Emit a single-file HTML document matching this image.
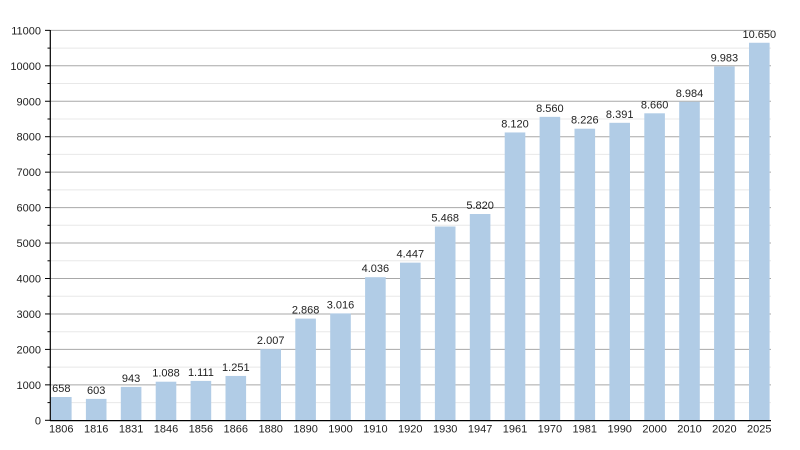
<!DOCTYPE html>
<html><head><meta charset="utf-8"><style>
html,body{margin:0;padding:0;background:#fff;}
svg{display:block;font-family:"Liberation Sans",Arial,sans-serif;}
</style></head><body>
<svg width="800" height="450" viewBox="0 0 800 450" xmlns="http://www.w3.org/2000/svg">
<rect width="800" height="450" fill="#fff"/>
<g stroke="#e8e8e8" stroke-width="1">
<line x1="50" x2="771" y1="402.6" y2="402.6"/>
<line x1="50" x2="771" y1="367.1" y2="367.1"/>
<line x1="50" x2="771" y1="331.7" y2="331.7"/>
<line x1="50" x2="771" y1="296.2" y2="296.2"/>
<line x1="50" x2="771" y1="260.8" y2="260.8"/>
<line x1="50" x2="771" y1="225.3" y2="225.3"/>
<line x1="50" x2="771" y1="189.9" y2="189.9"/>
<line x1="50" x2="771" y1="154.4" y2="154.4"/>
<line x1="50" x2="771" y1="119.0" y2="119.0"/>
<line x1="50" x2="771" y1="83.5" y2="83.5"/>
<line x1="50" x2="771" y1="48.1" y2="48.1"/>
</g>
<g stroke="#a8a8a8" stroke-width="1">
<line x1="50" x2="771" y1="384.85" y2="384.85"/>
<line x1="50" x2="771" y1="349.4" y2="349.4"/>
<line x1="50" x2="771" y1="313.95" y2="313.95"/>
<line x1="50" x2="771" y1="278.5" y2="278.5"/>
<line x1="50" x2="771" y1="243.05" y2="243.05"/>
<line x1="50" x2="771" y1="207.6" y2="207.6"/>
<line x1="50" x2="771" y1="172.15" y2="172.15"/>
<line x1="50" x2="771" y1="136.7" y2="136.7"/>
<line x1="50" x2="771" y1="101.25" y2="101.25"/>
<line x1="50" x2="771" y1="65.8" y2="65.8"/>
<line x1="50" x2="771" y1="30.35" y2="30.35"/>
</g>
<g fill="#b1cce6">
<rect x="51" y="397.0" width="20.6" height="23.3"/>
<rect x="85.9" y="398.9" width="20.6" height="21.4"/>
<rect x="120.8" y="386.9" width="20.6" height="33.4"/>
<rect x="155.7" y="381.7" width="20.6" height="38.6"/>
<rect x="190.6" y="380.9" width="20.6" height="39.4"/>
<rect x="225.5" y="375.95" width="20.6" height="44.35"/>
<rect x="260.4" y="349.15" width="20.6" height="71.15"/>
<rect x="295.3" y="318.6" width="20.6" height="101.7"/>
<rect x="330.2" y="313.4" width="20.6" height="106.9"/>
<rect x="365.1" y="277.2" width="20.6" height="143.1"/>
<rect x="400" y="262.65" width="20.6" height="157.65"/>
<rect x="434.9" y="226.5" width="20.6" height="193.8"/>
<rect x="469.8" y="214.0" width="20.6" height="206.3"/>
<rect x="504.7" y="132.45" width="20.6" height="287.85"/>
<rect x="539.6" y="116.85" width="20.6" height="303.45"/>
<rect x="574.5" y="128.7" width="20.6" height="291.6"/>
<rect x="609.4" y="122.8" width="20.6" height="297.5"/>
<rect x="644.3" y="113.3" width="20.6" height="307.0"/>
<rect x="679.2" y="101.8" width="20.6" height="318.5"/>
<rect x="714.1" y="66.4" width="20.6" height="353.9"/>
<rect x="749" y="42.76" width="20.6" height="377.54"/>
</g>
<g stroke="#000" stroke-width="1.2">
<line x1="50.3" x2="50.3" y1="30" y2="421"/>
<line x1="50" x2="771" y1="420.6" y2="420.6"/>
</g>
<g stroke="#000" stroke-width="1">
<line x1="45" x2="50" y1="420.3" y2="420.3"/>
<line x1="45" x2="50" y1="384.85" y2="384.85"/>
<line x1="45" x2="50" y1="349.4" y2="349.4"/>
<line x1="45" x2="50" y1="313.95" y2="313.95"/>
<line x1="45" x2="50" y1="278.5" y2="278.5"/>
<line x1="45" x2="50" y1="243.05" y2="243.05"/>
<line x1="45" x2="50" y1="207.6" y2="207.6"/>
<line x1="45" x2="50" y1="172.15" y2="172.15"/>
<line x1="45" x2="50" y1="136.7" y2="136.7"/>
<line x1="45" x2="50" y1="101.25" y2="101.25"/>
<line x1="45" x2="50" y1="65.8" y2="65.8"/>
<line x1="45" x2="50" y1="30.35" y2="30.35"/>
<line x1="47.5" x2="50" y1="402.6" y2="402.6"/>
<line x1="47.5" x2="50" y1="367.1" y2="367.1"/>
<line x1="47.5" x2="50" y1="331.7" y2="331.7"/>
<line x1="47.5" x2="50" y1="296.2" y2="296.2"/>
<line x1="47.5" x2="50" y1="260.8" y2="260.8"/>
<line x1="47.5" x2="50" y1="225.3" y2="225.3"/>
<line x1="47.5" x2="50" y1="189.9" y2="189.9"/>
<line x1="47.5" x2="50" y1="154.4" y2="154.4"/>
<line x1="47.5" x2="50" y1="119.0" y2="119.0"/>
<line x1="47.5" x2="50" y1="83.5" y2="83.5"/>
<line x1="47.5" x2="50" y1="48.1" y2="48.1"/>
</g>
<g font-size="11" fill="#222" text-anchor="end">
<text x="41" y="424.3">0</text>
<text x="41" y="388.9">1000</text>
<text x="41" y="353.4">2000</text>
<text x="41" y="318">3000</text>
<text x="41" y="282.5">4000</text>
<text x="41" y="247">5000</text>
<text x="41" y="211.6">6000</text>
<text x="41" y="176.2">7000</text>
<text x="41" y="140.7">8000</text>
<text x="41" y="105.3">9000</text>
<text x="41" y="69.8">10000</text>
<text x="41" y="34.4">11000</text>
</g>
<g font-size="11" fill="#222" text-anchor="middle">
<text x="61.3" y="432.5">1806</text>
<text x="96.2" y="432.5">1816</text>
<text x="131.1" y="432.5">1831</text>
<text x="166" y="432.5">1846</text>
<text x="200.9" y="432.5">1856</text>
<text x="235.8" y="432.5">1866</text>
<text x="270.7" y="432.5">1880</text>
<text x="305.6" y="432.5">1890</text>
<text x="340.5" y="432.5">1900</text>
<text x="375.4" y="432.5">1910</text>
<text x="410.3" y="432.5">1920</text>
<text x="445.2" y="432.5">1930</text>
<text x="480.1" y="432.5">1947</text>
<text x="515" y="432.5">1961</text>
<text x="549.9" y="432.5">1970</text>
<text x="584.8" y="432.5">1981</text>
<text x="619.7" y="432.5">1990</text>
<text x="654.6" y="432.5">2000</text>
<text x="689.5" y="432.5">2010</text>
<text x="724.4" y="432.5">2020</text>
<text x="759.3" y="432.5">2025</text>
</g>
<g font-size="11" fill="#222" text-anchor="middle">
<text x="61.3" y="392">658</text>
<text x="96.2" y="393.9">603</text>
<text x="131.1" y="381.9">943</text>
<text x="166" y="376.7">1.088</text>
<text x="200.9" y="375.9">1.111</text>
<text x="235.8" y="370.95">1.251</text>
<text x="270.7" y="344.15">2.007</text>
<text x="305.6" y="313.6">2.868</text>
<text x="340.5" y="308.4">3.016</text>
<text x="375.4" y="272.2">4.036</text>
<text x="410.3" y="257.65">4.447</text>
<text x="445.2" y="221.5">5.468</text>
<text x="480.1" y="209">5.820</text>
<text x="515" y="127.45">8.120</text>
<text x="549.9" y="111.85">8.560</text>
<text x="584.8" y="123.7">8.226</text>
<text x="619.7" y="117.8">8.391</text>
<text x="654.6" y="108.3">8.660</text>
<text x="689.5" y="96.8">8.984</text>
<text x="724.4" y="61.4">9.983</text>
<text x="759.3" y="37.76">10.650</text>
</g>
</svg>
</body></html>
